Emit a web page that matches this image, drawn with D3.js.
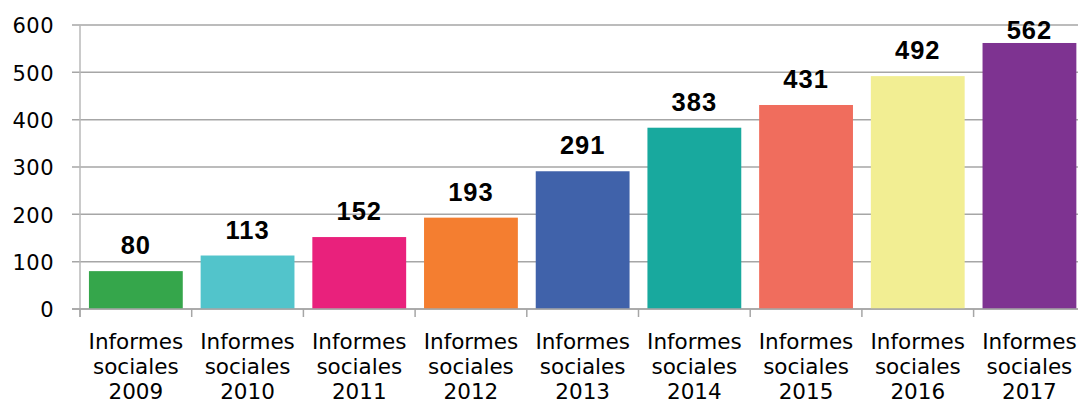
<!DOCTYPE html>
<html>
<head>
<meta charset="utf-8">
<script src="https://cdn.jsdelivr.net/npm/d3@7"></script>
<style>
  html, body { margin: 0; padding: 0; background: #ffffff; overflow: hidden; }
  svg { display: block; }
</style>
</head>
<body>
<svg id="chart" width="1078" height="412"></svg>
<script>
const years = ["2009", "2010", "2011", "2012", "2013", "2014", "2015", "2016", "2017"];
const categoryLines = ["Informes", "sociales"];
const values = [80, 113, 152, 193, 291, 383, 431, 492, 562];
const barColors = ["#35a64b", "#52c4cb", "#e9217c", "#f47e30", "#4062aa", "#18a99e", "#f06d5d", "#f2ee93", "#7e3391"];
const yTicks = [0, 100, 200, 300, 400, 500, 600];

(function () {
const svg = d3.select("#chart");
const W = 1078;
const plotLeft = 80, plotTop = 25, plotBottom = 309;
const step = 111.7;

const x = d3.scaleBand()
  .domain(years)
  .range([plotLeft, plotLeft + step * years.length])
  .paddingInner(0.16)
  .paddingOuter(0.08);

const y = d3.scaleLinear().domain([0, 600]).range([plotBottom, plotTop]);

const gridColor = "#a6a6a6";

// horizontal gridlines with left tick marks
svg.append("g").selectAll("line")
  .data(yTicks)
  .join("line")
  .attr("x1", plotLeft - 8)
  .attr("x2", W)
  .attr("y1", d => y(d))
  .attr("y2", d => y(d))
  .attr("stroke", gridColor)
  .attr("stroke-width", 1.5);

// vertical axis line
svg.append("line")
  .attr("x1", plotLeft).attr("x2", plotLeft)
  .attr("y1", plotTop).attr("y2", plotBottom + 8)
  .attr("stroke", "#b8b8b8").attr("stroke-width", 1.5);

// y tick labels
svg.append("g").selectAll("text")
  .data(yTicks)
  .join("text")
  .attr("x", 54)
  .attr("y", d => y(d) + 8.3)
  .attr("text-anchor", "end")
  .attr("font-family", "DejaVu Sans, sans-serif")
  .attr("font-size", 21)
  .attr("letter-spacing", 0.5)
  .attr("fill", "#000")
  .text(d => d);

// bars
svg.append("g").selectAll("rect")
  .data(values)
  .join("rect")
  .attr("x", (d, i) => x(years[i]))
  .attr("y", d => y(d))
  .attr("width", x.bandwidth())
  .attr("height", d => y(0) - y(d))
  .attr("fill", (d, i) => barColors[i]);

// baseline axis over bars
svg.append("line")
  .attr("x1", plotLeft - 8).attr("x2", W)
  .attr("y1", y(0)).attr("y2", y(0))
  .attr("stroke", gridColor).attr("stroke-width", 1.5);

// category ticks at band boundaries
svg.append("g").selectAll("line")
  .data(d3.range(years.length + 1))
  .join("line")
  .attr("x1", i => plotLeft + i * x.step())
  .attr("x2", i => plotLeft + i * x.step())
  .attr("y1", y(0))
  .attr("y2", y(0) + 8)
  .attr("stroke", gridColor)
  .attr("stroke-width", 1.5);

// value labels
svg.append("g").selectAll("text")
  .data(values)
  .join("text")
  .attr("x", (d, i) => x(years[i]) + x.bandwidth() / 2)
  .attr("y", d => Math.max(y(d) - 17, 39))
  .attr("text-anchor", "middle")
  .attr("font-family", "Liberation Sans, Arial, sans-serif")
  .attr("font-weight", "bold")
  .attr("font-size", 25.5)
  .attr("letter-spacing", 1)
  .attr("fill", "#000")
  .text(d => d);

// category labels
const cat = svg.append("g").selectAll("text")
  .data(years)
  .join("text")
  .attr("x", d => x(d) + x.bandwidth() / 2)
  .attr("y", 348.5)
  .attr("text-anchor", "middle")
  .attr("font-family", "DejaVu Sans, sans-serif")
  .attr("font-size", 21.5)
  .attr("fill", "#000");

cat.each(function (d) {
  const t = d3.select(this);
  const lines = categoryLines.concat([d]);
  lines.forEach((ln, k) => {
    t.append("tspan")
      .attr("x", x(d) + x.bandwidth() / 2)
      .attr("dy", k === 0 ? 0 : 25)
      .text(ln);
  });
});
})();
</script>
</body>
</html>
